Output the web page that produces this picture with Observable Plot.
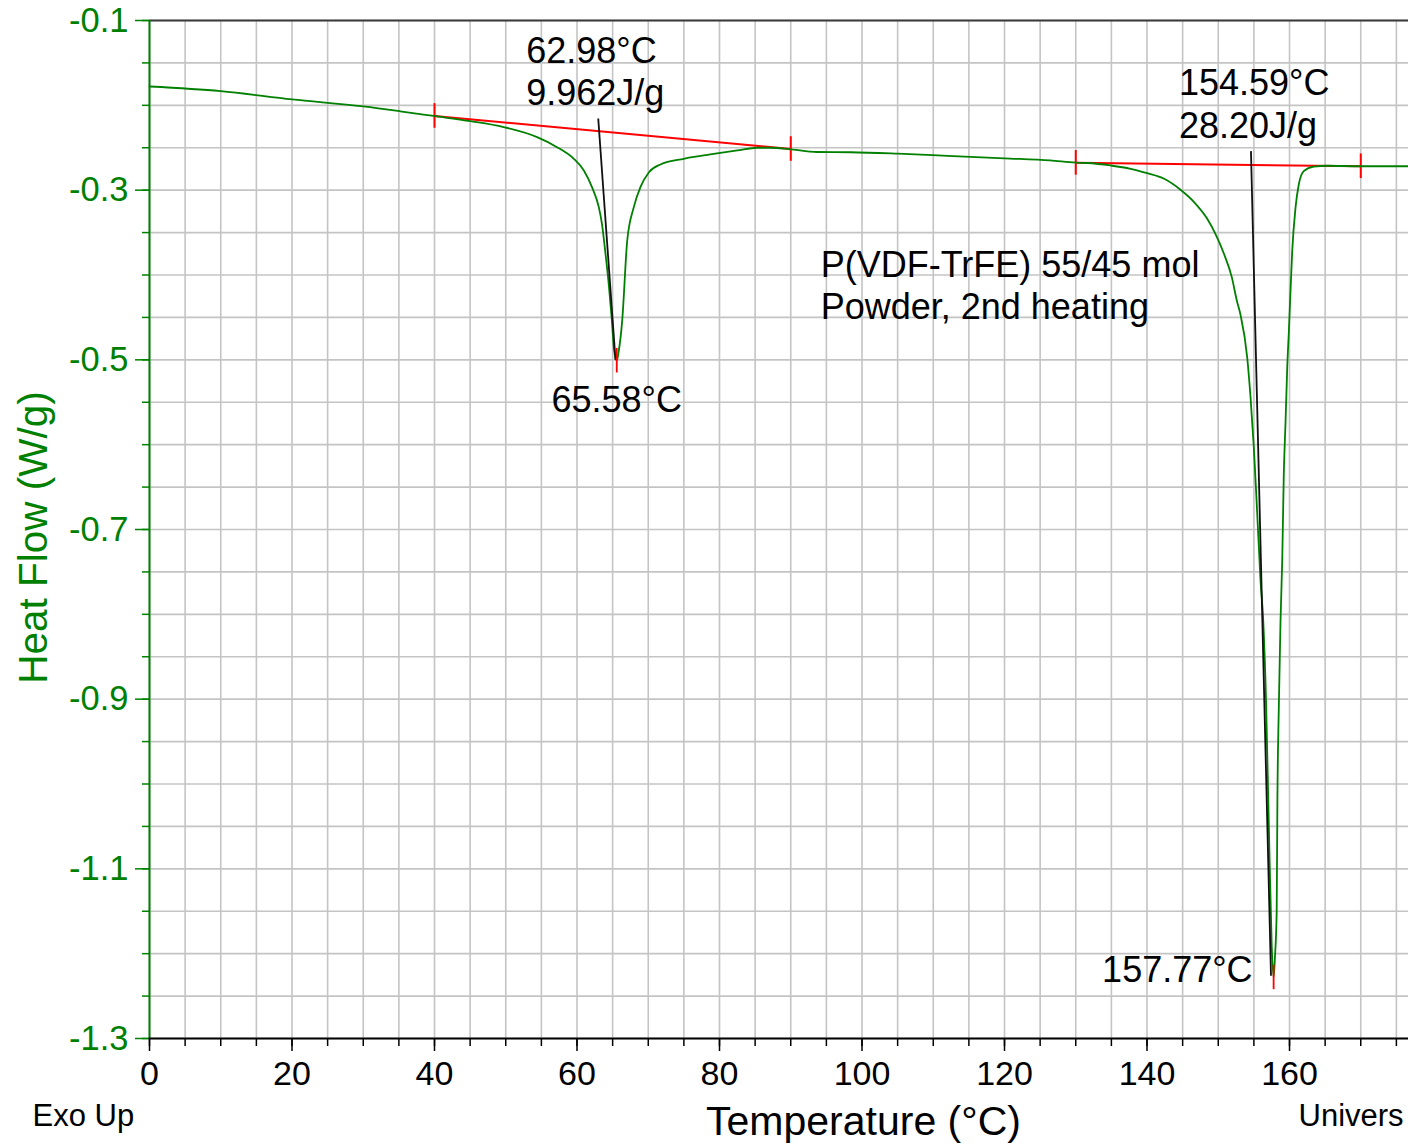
<!DOCTYPE html>
<html>
<head>
<meta charset="utf-8">
<script src="https://cdn.jsdelivr.net/npm/d3@7"></script>
<script src="https://cdn.jsdelivr.net/npm/@observablehq/plot@0.6"></script>
<style>
  html, body { margin: 0; padding: 0; background: #ffffff; }
  #chart { width: 1408px; height: 1144px; overflow: hidden; }
</style>
</head>
<body>
<div id="chart"></div>
<script>
// DSC heat-flow trace, P(VDF-TrFE) 55/45 mol powder, 2nd heating
const traceT = [
  0, 10, 20, 30, 35.2, 39.86, 45.05, 49.7, 54.4, 57.2, 59.55, 60.96, 62.1, 63.06, 63.5, 64.0, 64.5, 64.9, 65.2,
  65.58,
  65.87, 66.34, 67.05, 67.97, 68.9, 70.1, 71.7, 75.0, 78.7, 82.5, 85.3, 87.2, 89.7, 93.7, 98.4,
  105, 112, 120, 126.4, 130, 131.6, 134.9, 137.7, 140.0, 142.4, 144.7, 146.6, 148.45, 149.6, 150.8, 151.9, 152.6,
  153.1, 154.06, 154.53, 154.99, 155.47, 155.93, 156.31, 156.7, 157.1, 157.5,
  157.77,
  157.95, 158.2, 158.3, 158.5, 158.74, 158.98, 159.2, 159.44, 159.68, 159.9, 160.14, 160.38, 160.84,
  161.3, 162.0, 163.4, 165.3, 170, 176.7
];
const traceW = [
  -0.1778, -0.1833, -0.193, -0.2013, -0.207, -0.2125, -0.2187, -0.2257, -0.2375, -0.2493, -0.263, -0.2768, -0.2964, -0.32, -0.3396, -0.375, -0.415, -0.454, -0.488,
  -0.501,
  -0.489, -0.454, -0.3593, -0.32, -0.2964, -0.2788, -0.2697, -0.263, -0.2579, -0.2532, -0.25, -0.25, -0.2515, -0.255, -0.2553,
  -0.257, -0.2595, -0.2625, -0.265, -0.2675, -0.268, -0.2709, -0.2748, -0.28, -0.2866, -0.2995, -0.314, -0.3337, -0.3514, -0.375, -0.4025, -0.43,
  -0.446, -0.497, -0.544, -0.603, -0.6815, -0.76, -0.807, -0.9, -1.05, -1.19,
  -1.228,
  -1.205, -1.15, -1.02, -0.909, -0.807, -0.736, -0.634, -0.574, -0.509, -0.468, -0.419, -0.372, -0.321,
  -0.2933, -0.2776, -0.2722, -0.2712, -0.2718, -0.2718
];

// Integration baselines (one per transition)
const baseStartT = [40, 130];
const baseStartW = [-0.2125, -0.2678];
const baseEndT = [90, 170];
const baseEndW = [-0.2515, -0.2718];

// Transition results
const onsetT = [62.98, 154.59];
const onsetW = [-0.2155, -0.254];
const peakT = [65.58, 157.77];
const peakW = [-0.501, -1.228];
const enthalpy = [9.962, 28.20];
// lower end of each onset construction line
const onsetLineEndT = [65.4, 157.4];
const onsetLineEndW = [-0.5, -1.226];

// Axis ticks
const yLabelTicks = [-0.1, -0.3, -0.5, -0.7, -0.9, -1.1, -1.3];
const xLabelTicks = [0, 20, 40, 60, 80, 100, 120, 140, 160];
const xMinorTicks = d3.range(0, 177, 5);
const yMinorTicks = d3.range(-26, -1, 1).map(i => i * 0.05);

const sampleNote = ["P(VDF-TrFE) 55/45 mol\nPowder, 2nd heating"];
const sampleNoteT = 94.2;
const sampleNoteW = -0.4515;

// tables for marks
const trace = traceT.map((t, i) => ({T: t, W: traceW[i]}));
const baselines = baseStartT.map((t, i) => ({x1: t, y1: baseStartW[i], x2: baseEndT[i], y2: baseEndW[i]}));
const limits = baseStartT.map((t, i) => ({T: t, W: baseStartW[i]}))
  .concat(baseEndT.map((t, i) => ({T: t, W: baseEndW[i]})));
const peaks = peakT.map((t, i) => ({T: t, W: peakW[i], label: `${t.toFixed(2)}°C`}));
const onsets = onsetT.map((t, i) => ({
  T: t, W: onsetW[i], x2: onsetLineEndT[i], y2: onsetLineEndW[i],
  label: `${t.toFixed(2)}°C\n${enthalpy[i].toPrecision(4)}J/g`
}));

const GREEN = "#008000";
const FONT = "'Liberation Sans', Arial, Helvetica, sans-serif";
const markHalf = 0.0145;

const chart = Plot.plot({
  width: 1408,
  height: 1144,
  marginLeft: 149,
  marginRight: 0,
  marginTop: 20,
  marginBottom: 106,
  x: {domain: [0, 176.7]},
  y: {domain: [-1.3, -0.1]},
  style: {fontFamily: FONT, background: "#ffffff", color: "#000000", overflow: "hidden"},
  marks: [
    Plot.gridX(xMinorTicks, {stroke: "#c4c4c4", strokeOpacity: 1, strokeWidth: 1.6}),
    Plot.gridY(yMinorTicks, {stroke: "#c4c4c4", strokeOpacity: 1, strokeWidth: 1.6}),
    Plot.ruleY([-0.1], {stroke: "#3a3a3a", strokeWidth: 2}),

    // integration baselines and their limit marks
    Plot.link(baselines, {x1: "x1", y1: "y1", x2: "x2", y2: "y2", stroke: "#ff0000", strokeWidth: 2}),
    Plot.ruleX(limits, {x: "T", y1: d => d.W + markHalf, y2: d => d.W - markHalf, stroke: "#ff0000", strokeWidth: 2}),

    // heat-flow trace
    Plot.line(trace, {x: "T", y: "W", stroke: GREEN, strokeWidth: 1.8, curve: "monotone-x"}),

    // onset construction lines
    Plot.link(onsets, {x1: "T", y1: "W", x2: "x2", y2: "y2", stroke: "#111111", strokeWidth: 1.8}),
    Plot.ruleX(peaks, {x: "T", y1: d => d.W + markHalf, y2: d => d.W - markHalf, stroke: "#ff0000", strokeWidth: 1.8}),

    // axes
    Plot.axisY(yMinorTicks, {anchor: "left", tickSize: 7, tickFormat: () => "", color: GREEN, strokeWidth: 1.5, label: null}),
    Plot.axisY(yLabelTicks, {anchor: "left", tickSize: 14, tickPadding: 7, fontSize: 34.5, color: GREEN, strokeWidth: 1.5,
      tickFormat: d => d.toFixed(1), label: null}),
    Plot.axisX(xMinorTicks, {anchor: "bottom", tickSize: 8, tickFormat: () => "", color: "#000000", strokeWidth: 1.5, label: null}),
    Plot.axisX(xLabelTicks, {anchor: "bottom", tickSize: 13, tickPadding: 9.5, fontSize: 34, color: "#000000", strokeWidth: 1.5,
      tickFormat: d => String(d), label: null}),
    Plot.ruleX([0], {stroke: GREEN, strokeWidth: 2}),
    Plot.ruleY([-1.3], {stroke: "#000000", strokeWidth: 2}),

    // annotations
    Plot.text(onsets, {x: "T", y: "W", text: "label", textAnchor: "start", lineAnchor: "bottom",
      lineHeight: 1.19, dx: -72, dy: -13, fontSize: 36, fill: "#000000"}),
    Plot.text(peaks.slice(0, 1), {x: "T", y: "W", text: "label", textAnchor: "middle", lineAnchor: "bottom",
      dy: 51, fontSize: 36, fill: "#000000"}),
    Plot.text(peaks.slice(1), {x: "T", y: "W", text: "label", textAnchor: "end", lineAnchor: "bottom",
      dx: -21, dy: 5, fontSize: 36, fill: "#000000"}),
    Plot.text(sampleNote, {x: () => sampleNoteT, y: () => sampleNoteW, text: d => d, textAnchor: "start",
      lineAnchor: "bottom", lineHeight: 1.16, fontSize: 36, fill: "#000000"}),

    // axis titles and footer
    Plot.text(["Heat Flow (W/g)"], {text: d => d, frameAnchor: "left", textAnchor: "middle", rotate: -90,
      dx: -115, dy: 8, fontSize: 40.5, fill: GREEN}),
    Plot.text(["Temperature (°C)"], {text: d => d, frameAnchor: "bottom", textAnchor: "middle", lineAnchor: "bottom",
      dx: 84.5, dy: 96, fontSize: 41, fill: "#000000"}),
    Plot.text(["Exo Up"], {text: d => d, frameAnchor: "bottom-left", textAnchor: "start", lineAnchor: "bottom",
      dx: -117, dy: 87, fontSize: 31, fill: "#000000"}),
    Plot.text(["Univers"], {text: d => d, frameAnchor: "bottom-right", textAnchor: "start", lineAnchor: "bottom",
      dx: -110, dy: 87, fontSize: 31, fill: "#000000"})
  ]
});

document.getElementById("chart").appendChild(chart);
</script>
</body>
</html>
